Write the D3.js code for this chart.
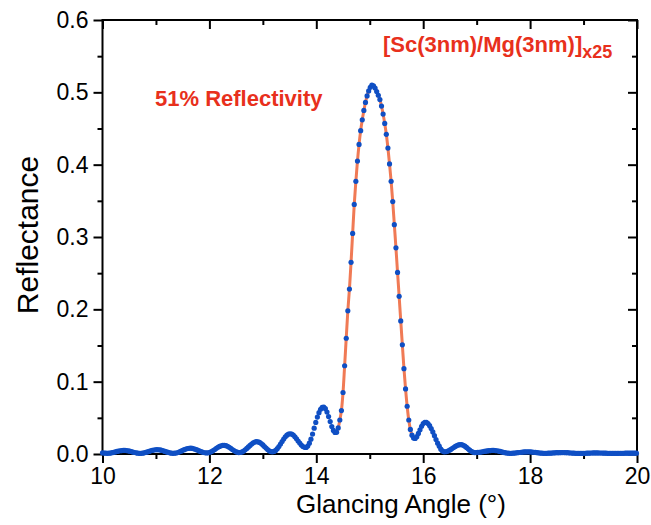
<!DOCTYPE html>
<html>
<head>
<meta charset="utf-8">
<script src="https://cdn.jsdelivr.net/npm/d3@7"></script>
<style>
  html, body { margin: 0; padding: 0; background: #fff; }
  svg { display: block; font-family: "Liberation Sans", Arial, sans-serif; }
</style>
</head>
<body>
<svg id="chart" width="651" height="525"></svg>
<script>
// Measured reflectance of the [Sc(3nm)/Mg(3nm)]x25 multilayer,
// sampled every 0.03° starting at 10°.
const angleStart = 10;
const angleStep = 0.03;
const reflectance = [
  0.0016, 0.0013, 0.0011, 0.0010, 0.0011, 0.0013, 0.0018, 0.0023, 0.0029, 0.0035,
  0.0040, 0.0045, 0.0048, 0.0050, 0.0050, 0.0048, 0.0044, 0.0039, 0.0033, 0.0027,
  0.0021, 0.0016, 0.0012, 0.0010, 0.0010, 0.0012, 0.0016, 0.0022, 0.0029, 0.0036,
  0.0044, 0.0050, 0.0055, 0.0059, 0.0060, 0.0059, 0.0056, 0.0050, 0.0044, 0.0036,
  0.0029, 0.0022, 0.0016, 0.0012, 0.0010, 0.0011, 0.0014, 0.0021, 0.0030, 0.0039,
  0.0051, 0.0060, 0.0069, 0.0076, 0.0079, 0.0080, 0.0077, 0.0072, 0.0065, 0.0056,
  0.0046, 0.0036, 0.0028, 0.0021, 0.0017, 0.0015, 0.0017, 0.0024, 0.0034, 0.0048,
  0.0062, 0.0078, 0.0093, 0.0105, 0.0114, 0.0119, 0.0120, 0.0115, 0.0106, 0.0093,
  0.0078, 0.0062, 0.0047, 0.0034, 0.0025, 0.0020, 0.0021, 0.0028, 0.0040, 0.0058,
  0.0077, 0.0098, 0.0119, 0.0138, 0.0155, 0.0165, 0.0170, 0.0168, 0.0160, 0.0145,
  0.0126, 0.0104, 0.0082, 0.0061, 0.0044, 0.0034, 0.0030, 0.0035, 0.0049, 0.0073,
  0.0103, 0.0138, 0.0173, 0.0206, 0.0237, 0.0260, 0.0275, 0.0280, 0.0275, 0.0261,
  0.0238, 0.0211, 0.0180, 0.0151, 0.0124, 0.0104, 0.0092, 0.0091, 0.0110, 0.0149,
  0.0205, 0.0275, 0.0357, 0.0437, 0.0510, 0.0572, 0.0619, 0.0645, 0.0649, 0.0626,
  0.0580, 0.0517, 0.0448, 0.0380, 0.0326, 0.0297, 0.0300, 0.0360, 0.0470, 0.0600,
  0.0850, 0.1220, 0.1600, 0.1980, 0.2280, 0.2650, 0.3050, 0.3450, 0.3770, 0.4050,
  0.4280, 0.4470, 0.4620, 0.4750, 0.4860, 0.4950, 0.5020, 0.5070, 0.5100, 0.5090,
  0.5060, 0.5010, 0.4960, 0.4900, 0.4810, 0.4700, 0.4570, 0.4420, 0.4230, 0.4010,
  0.3770, 0.3490, 0.3170, 0.2850, 0.2510, 0.2180, 0.1840, 0.1510, 0.1180, 0.0900,
  0.0660, 0.0470, 0.0340, 0.0260, 0.0220, 0.0215, 0.0240, 0.0284, 0.0334, 0.0383,
  0.0420, 0.0439, 0.0437, 0.0421, 0.0392, 0.0352, 0.0305, 0.0253, 0.0199, 0.0149,
  0.0108, 0.0067, 0.0042, 0.0030, 0.0031, 0.0037, 0.0047, 0.0060, 0.0075, 0.0090,
  0.0105, 0.0117, 0.0126, 0.0130, 0.0129, 0.0121, 0.0108, 0.0091, 0.0072, 0.0053,
  0.0037, 0.0026, 0.0020, 0.0020, 0.0022, 0.0024, 0.0027, 0.0031, 0.0035, 0.0039,
  0.0043, 0.0046, 0.0048, 0.0050, 0.0050, 0.0048, 0.0045, 0.0041, 0.0035, 0.0029,
  0.0023, 0.0018, 0.0014, 0.0011, 0.0010, 0.0010, 0.0011, 0.0013, 0.0016, 0.0018,
  0.0021, 0.0024, 0.0026, 0.0028, 0.0029, 0.0030, 0.0030, 0.0029, 0.0027, 0.0024,
  0.0022, 0.0018, 0.0016, 0.0013, 0.0011, 0.0010, 0.0010, 0.0010, 0.0011, 0.0012,
  0.0013, 0.0015, 0.0016, 0.0018, 0.0019, 0.0019, 0.0020, 0.0020, 0.0020, 0.0019,
  0.0018, 0.0016, 0.0014, 0.0013, 0.0011, 0.0010, 0.0009, 0.0008, 0.0008, 0.0008,
  0.0009, 0.0010, 0.0011, 0.0012, 0.0013, 0.0014, 0.0015, 0.0015, 0.0015, 0.0015,
  0.0014, 0.0014, 0.0013, 0.0012, 0.0011, 0.0010, 0.0009, 0.0009, 0.0008, 0.0008,
  0.0008, 0.0008, 0.0009, 0.0009, 0.0010, 0.0010, 0.0011, 0.0011, 0.0012, 0.0012,
  0.0012, 0.0012, 0.0011, 0.0011
];

// Angular range covered by the fitted curve around the Bragg peak.
const fitStart = 14.38;
const fitEnd = 15.82;

// Axis ticks.
const xMajorTicks = [10, 12, 14, 16, 18, 20];
const xMinorTicks = [11, 13, 15, 17, 19];
const yMajorTicks = [0.0, 0.1, 0.2, 0.3, 0.4, 0.5, 0.6];
const yMinorTicks = [0.05, 0.15, 0.25, 0.35, 0.45, 0.55];

const xTitle = "Glancing Angle (°)";
const yTitle = "Reflectance";
const peakNote = "51% Reflectivity";
const stackNote = "[Sc(3nm)/Mg(3nm)]";
const stackSub = "x25";

const points = reflectance.map((r, i) => ({ angle: angleStart + i * angleStep, r }));

const svg = d3.select("#chart");
const plot = { left: 102.5, right: 637, top: 20, bottom: 454 };

const x = d3.scaleLinear().domain([10, 20]).range([plot.left, plot.right]);
const y = d3.scaleLinear().domain([0, 0.6]).range([plot.bottom, plot.top]);

const majorLen = 9, minorLen = 5;
const tickFont = 23;

function styleAxis(g) {
  g.select(".domain").remove();
  g.selectAll(".tick line").attr("stroke", "#000").attr("stroke-width", 2);
  g.selectAll(".tick text").attr("font-size", tickFont)
    .attr("font-family", "'Liberation Sans', Arial, sans-serif").attr("fill", "#000");
}

// Bottom axis (outward ticks, labelled)
svg.append("g").attr("transform", `translate(0,${plot.bottom})`)
  .call(d3.axisBottom(x).tickValues(xMajorTicks).tickSize(majorLen).tickPadding(5).tickFormat(d3.format("d")))
  .call(styleAxis);
svg.append("g").attr("transform", `translate(0,${plot.bottom})`)
  .call(d3.axisBottom(x).tickValues(xMinorTicks).tickSize(minorLen).tickFormat(""))
  .call(styleAxis);

// Top axis (inward ticks)
svg.append("g").attr("transform", `translate(0,${plot.top})`)
  .call(d3.axisTop(x).tickValues(xMajorTicks).tickSize(-majorLen).tickFormat(""))
  .call(styleAxis);
svg.append("g").attr("transform", `translate(0,${plot.top})`)
  .call(d3.axisTop(x).tickValues(xMinorTicks).tickSize(-minorLen).tickFormat(""))
  .call(styleAxis);

// Left axis (outward ticks, labelled)
svg.append("g").attr("transform", `translate(${plot.left},0)`)
  .call(d3.axisLeft(y).tickValues(yMajorTicks).tickSize(majorLen).tickPadding(5).tickFormat(d3.format(".1f")))
  .call(styleAxis);
svg.append("g").attr("transform", `translate(${plot.left},0)`)
  .call(d3.axisLeft(y).tickValues(yMinorTicks).tickSize(minorLen).tickFormat(""))
  .call(styleAxis);

// Right axis (inward ticks)
svg.append("g").attr("transform", `translate(${plot.right},0)`)
  .call(d3.axisRight(y).tickValues(yMajorTicks).tickSize(-majorLen).tickFormat(""))
  .call(styleAxis);
svg.append("g").attr("transform", `translate(${plot.right},0)`)
  .call(d3.axisRight(y).tickValues(yMinorTicks).tickSize(-minorLen).tickFormat(""))
  .call(styleAxis);

// Plot frame
svg.append("rect")
  .attr("x", plot.left).attr("y", plot.top)
  .attr("width", plot.right - plot.left).attr("height", plot.bottom - plot.top)
  .attr("fill", "none").attr("stroke", "#000").attr("stroke-width", 2);

// Fitted curve through the Bragg peak
const fitPoints = points.filter(p => p.angle >= fitStart - 1e-9 && p.angle <= fitEnd + 1e-9);
svg.append("path")
  .datum(fitPoints)
  .attr("fill", "none")
  .attr("stroke", "#f07a55")
  .attr("stroke-width", 3)
  .attr("d", d3.line().x(d => x(d.angle)).y(d => y(d.r)).curve(d3.curveCatmullRom));

// Measured points
svg.append("g").selectAll("circle")
  .data(points)
  .join("circle")
  .attr("cx", d => x(d.angle))
  .attr("cy", d => y(d.r))
  .attr("r", 2.6)
  .attr("fill", "#0f4fc4");

// Axis titles
svg.append("text")
  .attr("x", 401).attr("y", 513)
  .attr("text-anchor", "middle")
  .attr("font-size", 26)
  .text(xTitle);

svg.append("text")
  .attr("transform", "translate(38,235) rotate(-90)")
  .attr("text-anchor", "middle")
  .attr("font-size", 30)
  .text(yTitle);

// Annotations
svg.append("text")
  .attr("x", 155).attr("y", 106)
  .attr("font-size", 22).attr("font-weight", "bold")
  .attr("fill", "#e8301c")
  .text(peakNote);

const stack = svg.append("text")
  .attr("x", 383).attr("y", 52)
  .attr("font-size", 22).attr("font-weight", "bold")
  .attr("fill", "#e8301c");
stack.append("tspan").text(stackNote);
stack.append("tspan").attr("font-size", 18).attr("dy", 6).text(stackSub);
</script>
</body>
</html>
